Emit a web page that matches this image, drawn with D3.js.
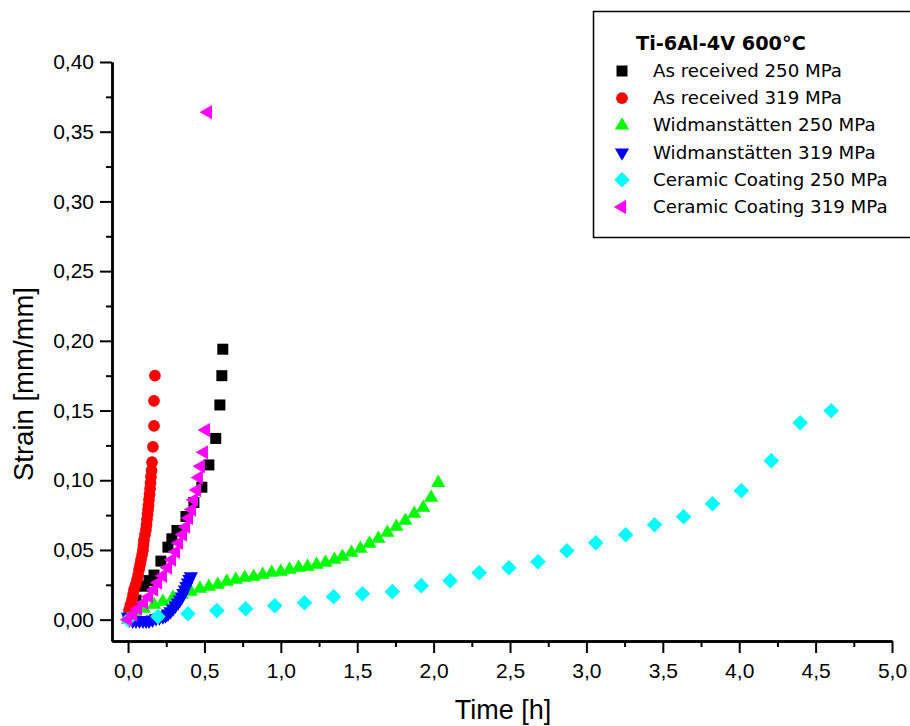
<!DOCTYPE html>
<html>
<head>
<meta charset="utf-8">
<script src="https://cdn.jsdelivr.net/npm/d3@7"></script>
<style>
  body { margin: 0; background: #fff; }
  svg { display: block; font-family: "Liberation Sans", Arial, sans-serif; }
</style>
</head>
<body>
<svg id="drawing_region"></svg>
<script>
// ---- data ----
const seriesNames = [
    "As received 250 MPa",
    "As received 319 MPa",
    "Widmanstätten 250 MPa",
    "Widmanstätten 319 MPa",
    "Ceramic Coating 250 MPa",
    "Ceramic Coating 319 MPa"
];
const legendTitle = "Ti-6Al-4V 600°C";

const asReceived250Time   = [0.007,0.052,0.104,0.137,0.170,0.215,0.261,0.287,0.320,0.379,0.431,0.483,0.529,0.574,0.601,0.614,0.620];
const asReceived250Strain = [0.004,0.014,0.024,0.028,0.032,0.042,0.052,0.058,0.064,0.074,0.084,0.095,0.111,0.130,0.154,0.175,0.194];

const asReceived319Time   = [0.000,0.007,0.016,0.026,0.033,0.039,0.049,0.059,0.066,0.072,0.079,0.085,0.092,0.098,0.101,0.104,0.111,0.117,0.121,0.124,0.128,0.131,0.134,0.137,0.141,0.144,0.147,0.150,0.154,0.157,0.163,0.170,0.170,0.176];
const asReceived319Strain = [0.001,0.0072,0.0108,0.0143,0.018,0.0215,0.025,0.0287,0.032,0.036,0.0395,0.043,0.0465,0.050,0.0535,0.057,0.061,0.0645,0.068,0.072,0.0755,0.079,0.082,0.086,0.090,0.094,0.098,0.1025,0.107,0.113,0.124,0.139,0.157,0.175];

const widman250Time   = [0.000,0.046,0.104,0.170,0.228,0.294,0.352,0.411,0.470,0.529,0.587,0.646,0.705,0.764,0.822,0.881,0.940,0.999,1.057,1.116,1.175,1.234,1.292,1.351,1.403,1.462,1.521,1.580,1.638,1.697,1.756,1.815,1.873,1.932,1.984,2.030];
const widman250Strain = [0.000,0.0043,0.0079,0.0108,0.0129,0.0158,0.0179,0.0201,0.0222,0.0237,0.0251,0.0272,0.0287,0.0301,0.0308,0.0323,0.0337,0.0344,0.0358,0.0373,0.0380,0.0394,0.0409,0.0430,0.0452,0.0480,0.0509,0.0545,0.0581,0.0624,0.0667,0.0710,0.0760,0.0803,0.0875,0.0982];

const widman319Time   = [0.000,0.007,0.030,0.052,0.075,0.098,0.118,0.137,0.160,0.183,0.205,0.228,0.245,0.261,0.278,0.294,0.310,0.326,0.340,0.352,0.362,0.372,0.382,0.392,0.402,0.411];
const widman319Strain = [0.002,0.000,-0.0007,-0.0007,-0.0007,-0.0007,-0.0007,-0.0007,0.000,0.001,0.0015,0.0022,0.003,0.0043,0.006,0.0079,0.010,0.0122,0.0143,0.0165,0.019,0.0215,0.024,0.0265,0.029,0.031];

const ceramic250Time   = [0.000,0.196,0.392,0.581,0.770,0.960,1.155,1.345,1.534,1.730,1.919,2.108,2.298,2.493,2.683,2.872,3.061,3.257,3.446,3.636,3.825,4.014,4.210,4.399,4.602];
const ceramic250Strain = [0.000,0.0022,0.0043,0.0065,0.0079,0.0100,0.0122,0.0165,0.0186,0.0201,0.0244,0.0280,0.0337,0.0373,0.0416,0.0495,0.0552,0.0609,0.0681,0.0738,0.0832,0.0925,0.1140,0.1412,0.1498];

const ceramic319Time   = [0.000,0.033,0.065,0.104,0.137,0.170,0.196,0.228,0.261,0.287,0.313,0.333,0.359,0.379,0.398,0.418,0.431,0.450,0.463,0.476,0.496,0.509,0.522];
const ceramic319Strain = [0.000,0.0036,0.0079,0.0122,0.0165,0.0215,0.0265,0.0315,0.0373,0.043,0.0487,0.055,0.061,0.0667,0.073,0.079,0.086,0.093,0.102,0.110,0.120,0.136,0.364];

const xTicks = [0,0.5,1,1.5,2,2.5,3,3.5,4,4.5,5];
const xMinorTicks = [0.25,0.75,1.25,1.75,2.25,2.75,3.25,3.75,4.25,4.75];
const yTicks = [0,0.05,0.10,0.15,0.20,0.25,0.30,0.35,0.40];
const yMinorTicks = [0.025,0.075,0.125,0.175,0.225,0.275,0.325,0.375];

const seriesTimes   = [asReceived250Time, asReceived319Time, widman250Time, widman319Time, ceramic250Time, ceramic319Time];
const seriesStrains = [asReceived250Strain, asReceived319Strain, widman250Strain, widman319Strain, ceramic250Strain, ceramic319Strain];

// ---- marker styles ----
const markerStyles = [
    { color: '#000000', type: d3.symbolSquare,   size: 121, rotate: 0 },
    { color: '#ff0000', type: d3.symbolCircle,   size: 108, rotate: 0 },
    { color: '#00ff00', type: d3.symbolTriangle, size: 88,  rotate: 0 },
    { color: '#0000ff', type: d3.symbolTriangle, size: 88,  rotate: 180 },
    { color: '#00ffff', type: d3.symbolSquare,   size: 121, rotate: 45 },
    { color: '#ff00ff', type: d3.symbolTriangle, size: 88,  rotate: -90 }
];

const data = seriesNames.map( (name, i) => ({
    name: name,
    style: markerStyles[i],
    points: seriesTimes[i].map( (t, j) => ({ time: t, strain: seriesStrains[i][j] }) )
}));

class ScatterChart {

    constructor( config, data ) {
        this.config = config;
        this.data = data;
        this.init();
    }

    init() {
        let self = this;

        self.svg = d3.select( self.config.parent )
            .attr('width', self.config.width)
            .attr('height', self.config.height);

        self.svg.append('rect')
            .attr('width', self.config.width)
            .attr('height', self.config.height)
            .attr('fill', '#fff');

        self.chart = self.svg.append('g')
            .attr('transform', `translate(${self.config.margin.left}, ${self.config.margin.top})`);

        self.inner_width = self.config.width - self.config.margin.left - self.config.margin.right;
        self.inner_height = self.config.height - self.config.margin.top - self.config.margin.bottom;

        self.xscale = d3.scaleLinear()
            .domain( [-0.105, 5.0] )
            .range( [0, self.inner_width] );

        self.yscale = d3.scaleLinear()
            .domain( [-0.0153, 0.40] )
            .range( [self.inner_height, 0] );

        const comma = (fmt) => (d => d3.format(fmt)(d).replace('.', ','));

        self.xaxis = d3.axisBottom( self.xscale )
            .tickValues( xTicks )
            .tickSize(12)
            .tickSizeOuter(0)
            .tickPadding(10)
            .tickFormat( comma('.1f') );

        self.xaxis_minor = d3.axisBottom( self.xscale )
            .tickValues( xMinorTicks )
            .tickSize(6)
            .tickSizeOuter(0)
            .tickFormat('');

        self.yaxis = d3.axisLeft( self.yscale )
            .tickValues( yTicks )
            .tickSize(12)
            .tickSizeOuter(0)
            .tickPadding(6)
            .tickFormat( comma('.2f') );

        self.yaxis_minor = d3.axisLeft( self.yscale )
            .tickValues( yMinorTicks )
            .tickSize(6)
            .tickSizeOuter(0)
            .tickFormat('');

        self.marks_group = self.chart.append('g');

        self.xaxis_group = self.chart.append('g')
            .attr('transform', `translate(0, ${self.inner_height})`);
        self.xaxis_minor_group = self.chart.append('g')
            .attr('transform', `translate(0, ${self.inner_height})`);
        self.yaxis_group = self.chart.append('g');
        self.yaxis_minor_group = self.chart.append('g');

        // axis titles
        self.svg.append('text')
            .attr('x', 503)
            .attr('y', 719)
            .attr('text-anchor', 'middle')
            .attr('font-size', 27)
            .text('Time [h]');

        self.svg.append('text')
            .attr('transform', `translate(33, 384) rotate(-90)`)
            .attr('text-anchor', 'middle')
            .attr('font-size', 27.5)
            .text('Strain [mm/mm]');
    }

    render() {
        let self = this;

        self.marks_group.selectAll('g.series')
            .data(self.data)
            .enter()
            .append('g')
            .attr('class', 'series')
            .attr('fill', d => d.style.color)
            .each( function(s) {
                d3.select(this).selectAll('path')
                    .data(s.points)
                    .enter()
                    .append('path')
                    .attr('d', d3.symbol().type(s.style.type).size(s.style.size))
                    .attr('transform', d => `translate(${self.xscale(d.time)}, ${self.yscale(d.strain)}) rotate(${s.style.rotate})`);
            });

        const styleAxis = g => {
            g.select('.domain').attr('stroke-width', 2.5);
            g.selectAll('.tick line').attr('stroke-width', 2);
            g.selectAll('.tick text').attr('font-size', 21).attr('fill', '#000')
                .attr('font-family', '"Liberation Sans", Arial, sans-serif');
        };

        self.xaxis_group.call( self.xaxis ).call( styleAxis );
        self.xaxis_minor_group.call( self.xaxis_minor ).call( styleAxis );
        self.yaxis_group.call( self.yaxis ).call( styleAxis );
        self.yaxis_minor_group.call( self.yaxis_minor ).call( styleAxis );

        self.renderLegend();
    }

    renderLegend() {
        let self = this;
        const legend = self.svg.append('g');

        legend.append('rect')
            .attr('x', 593.5)
            .attr('y', 11.5)
            .attr('width', 340)
            .attr('height', 226)
            .attr('fill', '#fff')
            .attr('stroke', '#000')
            .attr('stroke-width', 1.5);

        legend.append('text')
            .attr('x', 636)
            .attr('y', 50)
            .attr('font-family', '"DejaVu Sans", Verdana, sans-serif')
            .attr('font-weight', 'bold')
            .attr('font-size', 19.3)
            .text(legendTitle);

        const rows = legend.selectAll('g.row')
            .data(self.data)
            .enter()
            .append('g')
            .attr('class', 'row')
            .attr('transform', (d, i) => `translate(0, ${77 + i * 27.2})`);

        rows.append('path')
            .attr('d', d => d3.symbol().type(d.style.type).size(d.style.size)())
            .attr('fill', d => d.style.color)
            .attr('transform', d => `translate(622, -6) rotate(${d.style.rotate})`);

        rows.append('text')
            .attr('x', 653)
            .attr('y', 0)
            .attr('font-family', '"DejaVu Sans", Verdana, sans-serif')
            .attr('font-size', 18.2)
            .text(d => d.name);
    }
}

const config = {
    parent: '#drawing_region',
    width: 910,
    height: 726,
    margin: { top: 62, right: 18, bottom: 85, left: 112 }
};

const chart = new ScatterChart( config, data );
chart.render();
</script>
</body>
</html>
